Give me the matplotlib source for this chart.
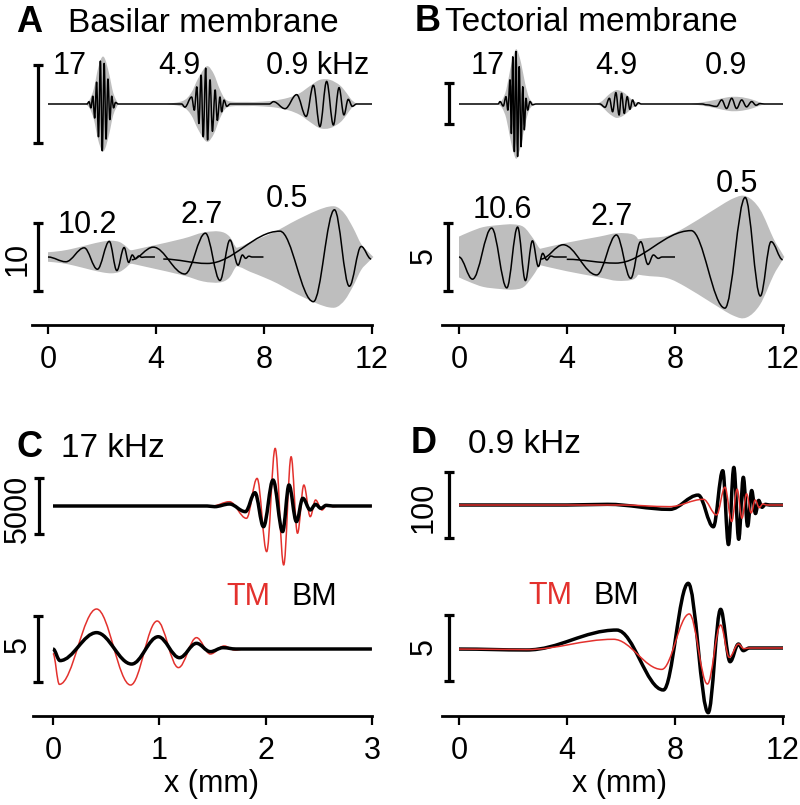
import matplotlib
matplotlib.use("Agg")
import matplotlib.pyplot as plt
from matplotlib.path import Path
from matplotlib.patches import PathPatch

W, H = 800, 805
GREY = "#bebebe"
RED = "#e3312d"

plt.rcParams["font.family"] = ["Liberation Sans", "DejaVu Sans"]

# ---- data: extrema (x mm, displacement), envelopes (x mm, half-width) ----
# A, top row (scale bar = 1)
A_TOP = [(0.0, 0.0), (1.45, 0.0),
         (1.52, 0.03), (1.59, -0.05), (1.66, 0.10), (1.73, -0.18), (1.80, 0.28), (1.87, -0.42), (1.94, 0.55),
         (2.01, -0.60), (2.08, 0.52), (2.15, -0.45), (2.22, 0.32), (2.29, -0.20), (2.36, 0.10), (2.43, -0.05),
         (2.50, 0.02), (2.6, 0.0), (4.95, 0.0),
         (5.07, -0.04), (5.32, 0.09), (5.42, -0.08), (5.51, 0.22), (5.59, -0.25), (5.67, 0.37), (5.75, -0.42),
         (5.84, 0.46), (5.91, -0.46), (6.00, 0.31), (6.09, -0.35), (6.19, 0.18), (6.27, -0.21), (6.37, 0.09),
         (6.43, -0.10), (6.52, 0.05), (6.62, -0.03), (6.75, 0.0), (8.2, 0.0),
         (8.35, 0.03), (8.78, -0.06), (9.21, 0.12), (9.56, -0.16), (9.83, 0.24), (10.07, -0.29), (10.32, 0.29),
         (10.57, -0.27), (10.78, 0.21), (10.96, -0.14), (11.12, 0.06), (11.27, -0.03), (11.43, 0.0), (12.0, 0.0)]
ENV_A_TOP_17 = [(1.40, 0.0), (1.55, 0.06), (1.70, 0.20), (1.85, 0.45), (2.0, 0.60), (2.12, 0.57), (2.27, 0.38),
                (2.42, 0.14), (2.6, 0.0)]
ENV_A_TOP_49 = [(4.4, 0.0), (5.0, 0.04), (5.3, 0.14), (5.55, 0.32), (5.8, 0.46), (5.95, 0.48), (6.15, 0.38),
                (6.35, 0.20), (6.55, 0.07), (6.8, 0.03), (7.6, 0.025), (8.2, 0.0)]
ENV_A_TOP_09 = [(6.8, 0.0), (7.6, 0.025), (8.3, 0.04), (8.9, 0.08), (9.33, 0.14), (9.7, 0.23), (10.07, 0.31),
                (10.44, 0.31), (10.81, 0.24), (11.06, 0.14), (11.25, 0.05), (11.45, 0.0)]

# A, bottom row (scale bar = 10)
A_BOT_102 = [(0.0, 0.0), (0.66, -0.7), (1.34, 1.35), (1.83, -1.8), (2.27, 2.3), (2.55, -2.0), (2.82, 1.4),
             (2.99, -0.8), (3.12, 0.3), (3.24, -0.25), (3.36, 0.15), (3.48, -0.05), (3.6, 0.0), (3.96, 0.0)]
A_BOT_27 = [(3.1, -0.4), (3.9, 1.45), (5.07, -2.5), (5.83, 3.5), (6.37, -3.45), (6.74, 2.5), (7.04, -1.2),
            (7.2, 0.3), (7.32, -0.2), (7.44, 0.12), (7.56, 0.0), (7.98, 0.0)]
A_BOT_05 = [(4.27, -0.3), (5.9, -0.95), (8.59, 3.8), (9.83, -6.57), (10.61, 6.95), (11.16, -4.3), (11.6, 1.55),
            (11.97, -0.3)]
ENV_A_BOT_102 = [(0.0, 0.7), (0.5, 0.9), (1.0, 1.3), (1.5, 1.8), (2.0, 2.25), (2.35, 2.4), (2.65, 2.2),
                 (2.88, 1.6), (3.05, 1.0), (3.25, 0.8)]
ENV_A_BOT_27 = [(3.0, 0.9), (3.8, 1.6), (5.0, 2.7), (5.75, 3.6), (6.35, 3.75), (6.7, 3.1), (6.95, 1.5),
                (7.15, 0.7), (7.4, 0.4)]
ENV_A_BOT_05 = [(4.3, 0.9), (5.5, 1.0), (6.9, 1.3), (7.5, 2.2), (8.0, 3.0), (8.5, 3.9), (9.0, 5.0), (9.5, 6.0),
                (10.0, 6.9), (10.4, 7.4), (10.7, 7.35), (11.0, 6.3), (11.3, 4.3), (11.6, 1.9), (11.85, 0.8),
                (12.05, 0.0)]

# B, top row (scale bar = 1)
B_TOP = [(0.0, 0.0), (1.45, 0.0),
         (1.52, 0.06), (1.64, -0.05), (1.74, 0.18), (1.81, -0.15), (1.89, 0.59), (1.94, -0.72), (1.99, 1.15),
         (2.05, -1.16), (2.11, 1.28), (2.17, -1.28), (2.23, 0.91), (2.30, -1.04), (2.36, 0.42), (2.42, -0.63),
         (2.48, 0.14), (2.54, -0.15), (2.63, 0.06), (2.72, -0.02), (2.85, 0.0), (5.1, 0.0),
         (5.22, 0.0), (5.41, -0.08), (5.57, 0.14), (5.69, -0.19), (5.81, 0.28), (5.93, -0.27), (6.02, 0.26),
         (6.12, -0.23), (6.23, 0.18), (6.33, -0.13), (6.43, 0.10), (6.53, -0.05), (6.64, 0.03), (6.75, 0.0),
         (9.0, 0.0),
         (9.17, -0.02), (9.54, -0.06), (9.73, 0.10), (9.91, -0.11), (10.1, 0.14), (10.28, -0.11), (10.47, 0.10),
         (10.65, -0.07), (10.84, 0.06), (11.0, -0.03), (11.15, 0.01), (11.3, 0.0), (12.0, 0.0)]
ENV_B_TOP_17 = [(1.45, 0.0), (1.6, 0.1), (1.75, 0.35), (1.9, 0.85), (2.05, 1.25), (2.15, 1.32), (2.3, 1.0),
                (2.45, 0.5), (2.6, 0.15), (2.78, 0.0)]
ENV_B_TOP_49 = [(5.1, 0.0), (5.3, 0.07), (5.5, 0.2), (5.7, 0.3), (5.85, 0.34), (6.05, 0.3), (6.25, 0.2),
                (6.45, 0.08), (6.65, 0.02), (6.8, 0.0)]
ENV_B_TOP_09 = [(8.6, 0.0), (9.0, 0.04), (9.5, 0.1), (10.0, 0.17), (10.4, 0.17), (10.8, 0.12), (11.1, 0.05),
                (11.35, 0.0)]

# B, bottom row (scale bar = 5)
B_BOT_106 = [(0.0, 0.0), (0.5, -1.63), (1.21, 2.13), (1.77, -2.27), (2.17, 2.2), (2.46, -1.74), (2.72, 1.19),
             (2.94, -0.7), (3.1, 0.27), (3.25, -0.22), (3.4, 0.07), (3.55, 0.0), (3.99, 0.0)]
B_BOT_27 = [(3.03, -0.15), (3.86, 0.9), (5.1, -1.32), (5.83, 1.62), (6.36, -1.57), (6.73, 1.13), (7.0, -0.55),
            (7.2, 0.15), (7.38, -0.1), (7.52, 0.0), (8.0, 0.0)]
B_BOT_05 = [(3.99, -0.17), (5.8, -0.45), (8.6, 1.94), (9.85, -3.76), (10.6, 4.38), (11.16, -2.87), (11.56, 1.13),
            (11.99, -0.2)]
ENV_B_BOT_106 = [(0.0, 1.5), (0.4, 1.85), (0.9, 2.2), (1.5, 2.35), (2.0, 2.4), (2.4, 2.2), (2.75, 1.35),
                 (3.0, 0.6), (3.2, 0.45)]
ENV_B_BOT_27 = [(3.0, 0.6), (4.0, 1.05), (5.2, 1.5), (5.85, 1.75), (6.45, 1.65), (6.7, 1.1), (6.9, 0.4),
                (7.1, 0.2)]
ENV_B_BOT_05 = [(4.0, 0.5), (5.5, 0.9), (6.8, 1.35), (7.7, 1.55), (8.4, 2.2), (9.3, 3.3), (10.15, 4.3),
                (10.65, 4.45), (11.15, 3.5), (11.65, 1.35), (11.9, 0.5), (12.05, 0.0)]

# C, 17 kHz (top bar = 5000, bottom bar = 5)
C_TOP_BM = [(0.0, 0.0), (1.45, 0.0), (1.52, -60), (1.66, 180), (1.81, -515), (1.9, 1210), (1.98, -1880),
            (2.07, 2360), (2.16, -2330), (2.22, 1910), (2.29, -1420), (2.35, 700), (2.42, -360), (2.47, 150),
            (2.52, -210), (2.57, 60), (2.63, 0.0), (3.0, 0.0)]
C_TOP_TM = [(0.0, 0.0), (1.5, 0.0), (1.66, 390), (1.82, -1120), (1.92, 2510), (2.01, -4150), (2.09, 5240),
            (2.17, -5360), (2.24, 4480), (2.3, -2480), (2.36, 1910), (2.42, -970), (2.47, 545), (2.53, -365),
            (2.58, 120), (2.64, -60), (2.7, 0.0), (3.0, 0.0)]
C_BOT_BM = [(0.0, 0.0), (0.066, -0.88), (0.41, 1.24), (0.74, -1.14), (0.99, 0.93), (1.19, -0.66), (1.35, 0.43),
            (1.48, -0.2), (1.6, 0.1), (1.72, 0.0), (3.0, 0.0)]
C_BOT_TM = [(0.0, -0.33), (0.06, -2.68), (0.41, 3.03), (0.73, -2.73), (0.98, 2.12), (1.18, -1.41), (1.35, 0.86),
            (1.48, -0.38), (1.61, 0.23), (1.71, -0.08), (1.8, 0.0), (3.0, 0.0)]

# D, 0.9 kHz (top bar = 100, bottom bar = 5)
D_TOP_BM = [(0.0, 0.0), (4.0, 0.0), (5.5, 1.0), (7.81, -6.6), (8.86, 15), (9.42, -33), (9.77, 52), (9.98, -60),
            (10.18, 57), (10.36, -52), (10.53, 42), (10.69, -32), (10.84, 22), (10.98, -13), (11.1, 7),
            (11.22, -3.5), (11.35, 1.0), (11.5, 0.0), (12.0, 0.0)]
D_TOP_TM = [(0.0, 0.0), (6.0, 0.0), (7.8, -2.5), (9.05, 8.6), (9.54, -15), (9.85, 27), (10.1, -25), (10.3, 24),
            (10.48, -20), (10.65, 17), (10.82, -12), (10.97, 7.5), (11.12, -4), (11.25, 1.5), (11.4, 0.0),
            (12.0, 0.0)]
D_BOT_BM = [(0.0, -0.08), (2.5, -0.15), (5.84, 1.36), (7.57, -3.18), (8.49, 4.9), (9.23, -4.9), (9.69, 2.93),
            (10.04, -1.04), (10.35, 0.3), (10.53, -0.2), (10.75, 0.0), (12.0, 0.0)]
D_BOT_TM = [(0.0, -0.08), (2.5, -0.12), (5.72, 0.66), (7.51, -1.62), (8.53, 2.58), (9.2, -2.73), (9.69, 1.74),
            (10.01, -0.71), (10.35, 0.3), (10.55, -0.05), (10.75, 0.0), (12.0, 0.0)]

TICKS_12 = [0, 4, 8, 12]
TICKS_3 = [0, 1, 2, 3]


def label(fig, px, py, s, **kw):
    fig.text(px / W, 1 - py / H, s, **kw)


def add_row(fig, px_left, px_right, zero_px, px_per_mm, py_top, py_bot, base_py, px_per_unit):
    """Axes placed in figure pixels; x in mm, y in the row's own units."""
    ax = fig.add_axes([px_left / W, 1 - py_bot / H, (px_right - px_left) / W, (py_bot - py_top) / H])
    ax.set_xlim((px_left - zero_px) / px_per_mm, (px_right - zero_px) / px_per_mm)
    ax.set_ylim((base_py - py_bot) / px_per_unit, (base_py - py_top) / px_per_unit)
    ax.patch.set_visible(False)
    ax.axis("off")
    return ax


def wave(ax, pts, color="black", lw=1.1, z=3, k=0.36):
    # smooth curve through the extrema, horizontal tangent at each one
    verts = [pts[0]]
    codes = [Path.MOVETO]
    for (x0, y0), (x1, y1) in zip(pts[:-1], pts[1:]):
        d = x1 - x0
        verts += [(x0 + k * d, y0), (x1 - k * d, y1), (x1, y1)]
        codes += [Path.CURVE4] * 3
    ax.add_patch(PathPatch(Path(verts, codes), fill=False, ec=color, lw=lw, zorder=z,
                           clip_on=False, joinstyle="round", capstyle="butt"))


def catmull(pts):
    out = []
    n = len(pts)
    for i in range(n - 1):
        p0, p1, p2, p3 = pts[max(i - 1, 0)], pts[i], pts[i + 1], pts[min(i + 2, n - 1)]
        out += [(p1[0] + (p2[0] - p0[0]) / 6, p1[1] + (p2[1] - p0[1]) / 6),
                (p2[0] - (p3[0] - p1[0]) / 6, p2[1] - (p3[1] - p1[1]) / 6),
                p2]
    return out


def envelope(ax, env):
    upper = [(x, h) for x, h in env]
    lower = [(x, -h) for x, h in env[::-1]]
    verts = [upper[0]] + catmull(upper) + [lower[0]] + catmull(lower) + [upper[0]]
    codes = ([Path.MOVETO] + [Path.CURVE4] * (3 * (len(upper) - 1)) + [Path.LINETO]
             + [Path.CURVE4] * (3 * (len(lower) - 1)) + [Path.CLOSEPOLY])
    ax.add_patch(PathPatch(Path(verts, codes), fc=GREY, ec="none", zorder=1, clip_on=False))


def scale_bar(ax, x, length):
    ax.plot([x, x], [-length / 2, length / 2], color="black", lw=2.3, marker="_", ms=7.5, mew=2.3,
            solid_capstyle="butt", clip_on=False, zorder=4)


def x_axis(ax, left, right, ticks):
    ax.axis("on")
    for side in ["top", "right", "left"]:
        ax.spines[side].set_visible(False)
    ax.spines["bottom"].set_linewidth(2.0)
    ax.spines["bottom"].set_bounds(left, right)
    ax.set_yticks([])
    ax.set_xticks(ticks)
    ax.set_xticklabels([str(t) for t in ticks])
    ax.tick_params(axis="x", direction="out", length=6.5, width=1.6, pad=8, labelsize=22)


def main():
    fig = plt.figure(figsize=(W / 100, H / 100), dpi=100)

    # ---------------- A: basilar membrane ----------------
    ax = add_row(fig, 0, 400, 48, 27, 40, 175, 104, 78)
    for env in (ENV_A_TOP_17, ENV_A_TOP_49, ENV_A_TOP_09):
        envelope(ax, env)
    wave(ax, A_TOP)
    scale_bar(ax, -0.37, 1.0)

    ax = add_row(fig, 0, 400, 48, 27, 175, 325, 257, 6.8)
    for env in (ENV_A_BOT_102, ENV_A_BOT_27, ENV_A_BOT_05):
        envelope(ax, env)
    for tr in (A_BOT_102, A_BOT_27, A_BOT_05):
        wave(ax, tr)
    scale_bar(ax, -0.37, 10)
    x_axis(ax, -0.59, 12, TICKS_12)

    # ---------------- B: tectorial membrane ----------------
    ax = add_row(fig, 400, 800, 459, 27, 40, 175, 104, 41)
    for env in (ENV_B_TOP_17, ENV_B_TOP_49, ENV_B_TOP_09):
        envelope(ax, env)
    wave(ax, B_TOP)
    scale_bar(ax, -0.37, 1.0)

    ax = add_row(fig, 400, 800, 459, 27, 175, 325, 257, 13.6)
    for env in (ENV_B_BOT_106, ENV_B_BOT_27, ENV_B_BOT_05):
        envelope(ax, env)
    for tr in (B_BOT_106, B_BOT_27, B_BOT_05):
        wave(ax, tr)
    scale_bar(ax, -0.41, 5)
    x_axis(ax, -0.63, 12, TICKS_12)

    # ---------------- C: 17 kHz ----------------
    ax = add_row(fig, 0, 400, 53, 106.3, 460, 580, 506, 55 / 5000)
    wave(ax, C_TOP_TM, color=RED, lw=1.1, z=3)
    wave(ax, C_TOP_BM, color="black", lw=2.5, z=4)
    scale_bar(ax, -0.13, 5000)

    ax = add_row(fig, 0, 400, 53, 106.3, 580, 716, 649, 13.2)
    wave(ax, C_BOT_TM, color=RED, lw=1.1, z=3)
    wave(ax, C_BOT_BM, color="black", lw=2.5, z=4)
    scale_bar(ax, -0.14, 5)
    x_axis(ax, -0.19, 3, TICKS_3)

    # ---------------- D: 0.9 kHz ----------------
    ax = add_row(fig, 400, 800, 459, 27, 460, 580, 505, 0.66)
    wave(ax, D_TOP_BM, color="black", lw=2.5, z=3)
    wave(ax, D_TOP_TM, color=RED, lw=1.1, z=4)
    scale_bar(ax, -0.37, 100)

    ax = add_row(fig, 400, 800, 459, 27, 580, 716, 648, 13.2)
    wave(ax, D_BOT_BM, color="black", lw=2.5, z=3)
    wave(ax, D_BOT_TM, color=RED, lw=1.1, z=4)
    scale_bar(ax, -0.37, 5)
    x_axis(ax, -0.63, 12, TICKS_12)

    # ---------------- text ----------------
    big = dict(fontsize=26, fontweight="bold", ha="left", va="baseline")
    ttl = dict(fontsize=24, ha="left", va="baseline")
    ann = dict(fontsize=22, ha="left", va="baseline")
    rot = dict(fontsize=22, ha="center", va="center", rotation=90)

    label(fig, 16, 32, "A", **big)
    label(fig, 68, 32, "Basilar membrane", **ttl)
    label(fig, 415, 31, "B", **big)
    label(fig, 445, 31, "Tectorial membrane", **ttl)
    label(fig, 16, 457, "C", **big)
    label(fig, 61, 457, "17 kHz", **ttl)
    label(fig, 411, 453, "D", **big)
    label(fig, 468, 453, "0.9 kHz", **ttl)

    label(fig, 53, 74, "17", **ann)
    label(fig, 158, 74, "4.9", **ann)
    label(fig, 266, 74, "0.9 kHz", **ann)
    label(fig, 471, 74, "17", **ann)
    label(fig, 595, 74, "4.9", **ann)
    label(fig, 705, 74, "0.9", **ann)

    label(fig, 58, 233, "10.2", **ann)
    label(fig, 181, 223, "2.7", **ann)
    label(fig, 266, 207, "0.5", **ann)
    label(fig, 473, 218, "10.6", **ann)
    label(fig, 590, 225, "2.7", **ann)
    label(fig, 716, 192, "0.5", **ann)

    label(fig, 226, 605, "TM", color=RED, **ann)
    label(fig, 291, 605, "BM", **ann)
    label(fig, 528, 604, "TM", color=RED, **ann)
    label(fig, 593, 604, "BM", **ann)

    label(fig, 18, 259, "10", **rot)
    label(fig, 424, 256, "5", **rot)
    label(fig, 18, 509, "5000", **rot)
    label(fig, 18, 645, "5", **rot)
    label(fig, 424, 507, "100", **rot)
    label(fig, 424, 647, "5", **rot)

    label(fig, 212, 784, "x (mm)", fontsize=22, ha="center", va="center")
    label(fig, 620, 784, "x (mm)", fontsize=22, ha="center", va="center")

    fig.savefig("out.png", dpi=100)
    plt.close(fig)


if __name__ == "__main__":
    main()
